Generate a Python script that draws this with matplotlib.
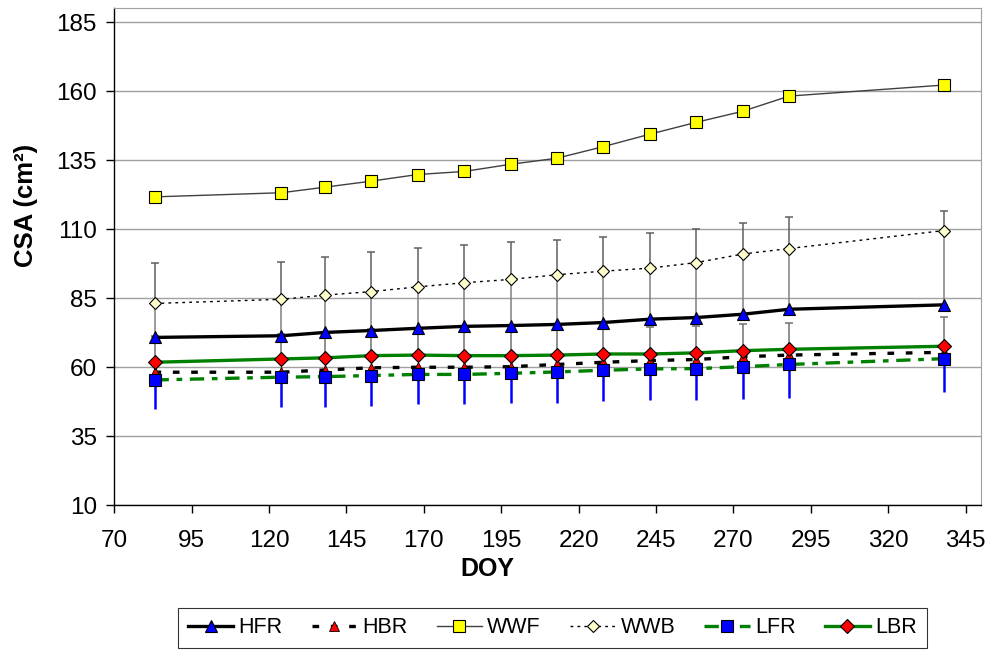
import matplotlib
matplotlib.use("Agg")
import matplotlib.pyplot as plt

plt.rcParams['font.family'] = ['Liberation Sans', 'DejaVu Sans']

# day of year of each measurement
doy = [83, 124, 138, 153, 168, 183, 198, 213, 228, 243, 258, 273, 288, 338]

# mean CSA (cm2) per treatment
hfr = [70.8, 71.4, 72.6, 73.3, 74.1, 74.8, 75.1, 75.5, 76.2, 77.4, 78.0, 79.2, 81.0, 82.6]
hbr = [58.2, 58.2, 59.0, 59.8, 60.0, 60.0, 60.2, 61.0, 61.8, 62.4, 62.8, 63.8, 64.4, 65.4]
wwf = [121.7, 123.2, 125.2, 127.4, 129.8, 130.9, 133.5, 135.7, 139.9, 144.4, 148.7, 152.7, 158.2, 162.2]
wwb = [83.1, 84.6, 86.1, 87.4, 89.1, 90.6, 91.8, 93.5, 94.8, 95.9, 97.9, 101.0, 103.0, 109.5]
lfr = [55.4, 56.4, 56.6, 57.0, 57.4, 57.4, 57.8, 58.3, 58.9, 59.4, 59.5, 60.2, 61.0, 63.1]
lbr = [61.8, 63.0, 63.4, 64.2, 64.4, 64.2, 64.2, 64.4, 64.8, 64.8, 65.2, 66.0, 66.5, 67.6]

# one-sided error bars
wwb_err_up = [14.6, 13.5, 13.8, 14.2, 14.0, 13.7, 13.6, 12.6, 12.3, 12.8, 12.2, 11.1, 11.4, 7.2]
hfr_err_up = [12.3, 13.2, 13.5, 14.1, 15.0, 15.8, 16.7, 18.0, 18.6, 18.5, 19.9, 21.8, 22.0, 26.9]
lbr_err_up = [9.5, 9.0, 9.5, 9.5, 9.5, 9.5, 9.5, 9.5, 9.5, 9.7, 9.6, 9.5, 9.4, 10.7]
lfr_err_dn = [10.5, 10.8, 11.0, 11.2, 10.7, 10.7, 10.7, 11.2, 11.3, 11.4, 11.5, 11.7, 12.1, 12.2]

x_ticks = list(range(70, 346, 25))
y_ticks = list(range(10, 186, 25))

fig = plt.figure(figsize=(9.92, 6.52), dpi=100)
ax = fig.add_axes([0.1152, 0.225, 0.8738, 0.7623])

ax.set_xlim(70, 350)
ax.set_ylim(10, 190)
ax.set_xticks(x_ticks)
ax.set_yticks(y_ticks)
ax.grid(axis='y', color='#a0a0a0', linewidth=1.0, zorder=0)
ax.set_axisbelow(True)

for side in ['top', 'right']:
    ax.spines[side].set_color('#a0a0a0')
for side in ['left', 'bottom']:
    ax.spines[side].set_color('black')
    ax.spines[side].set_linewidth(1.0)

ax.tick_params(axis='both', direction='out', length=5.5, width=1, labelsize=17.5)
ax.tick_params(axis='y', pad=7)
ax.tick_params(axis='x', pad=12)

# error bars first, markers go on top
zero = [0] * len(doy)
ax.errorbar(doy, wwb, yerr=[zero, wwb_err_up], fmt='none', ecolor='#606060',
            elinewidth=1.1, capsize=3, capthick=1.1, zorder=2)
ax.errorbar(doy, hfr, yerr=[zero, hfr_err_up], fmt='none', ecolor='#808080',
            elinewidth=1.1, capsize=3, capthick=1.1, zorder=2)
ax.errorbar(doy, lbr, yerr=[zero, lbr_err_up], fmt='none', ecolor='#707070',
            elinewidth=1.1, capsize=3, capthick=1.1, zorder=2)
ax.errorbar(doy, lfr, yerr=[lfr_err_dn, zero], fmt='none', ecolor='#0000ff',
            elinewidth=1.8, capsize=0, zorder=2)

ax.plot(doy, hfr, color='black', lw=2.4, marker='^', ms=9, mfc='#0000ff',
        mec='black', mew=0.8, label='HFR', zorder=3)
ax.plot(doy, hbr, color='black', lw=2.4, dashes=(2, 3.5), marker='^', ms=6.5,
        mfc='#ff0000', mec='black', mew=0.6, label='HBR', zorder=3)
ax.plot(doy, wwf, color='#404040', lw=1.0, marker='s', ms=9, mfc='#ffff00',
        mec='black', mew=0.8, label='WWF', zorder=3)
ax.plot(doy, wwb, color='black', lw=1.0, dashes=(2, 3), marker='D', ms=6.5,
        mfc='#ffffcc', mec='black', mew=0.8, label='WWB', zorder=3)
ax.plot(doy, lfr, color='#008000', lw=2.4, dashes=(4.3, 2.3, 1.7, 2.3), marker='s', ms=9,
        mfc='#0000ff', mec='black', mew=0.8, label='LFR', zorder=3)
ax.plot(doy, lbr, color='#008000', lw=2.4, marker='D', ms=6.8, mfc='#ff0000',
        mec='black', mew=0.8, label='LBR', zorder=3)

ax.set_ylabel('CSA (cm²)', fontsize=18.5, fontweight='bold')
ax.yaxis.set_label_coords(-0.088, 0.604)
ax.set_xlabel('DOY', fontsize=18, fontweight='bold')
ax.xaxis.set_label_coords(0.431, -0.105)

leg = ax.legend(loc='center', bbox_to_anchor=(0.557, 0.037), bbox_transform=fig.transFigure,
                ncol=6, frameon=True, fancybox=False, edgecolor='black',
                prop={'size': 15.5}, handlelength=2.1,
                handletextpad=0.25, columnspacing=1.35, borderpad=0.45)
leg.get_frame().set_linewidth(0.8)

fig.savefig('out.png', dpi=100)
